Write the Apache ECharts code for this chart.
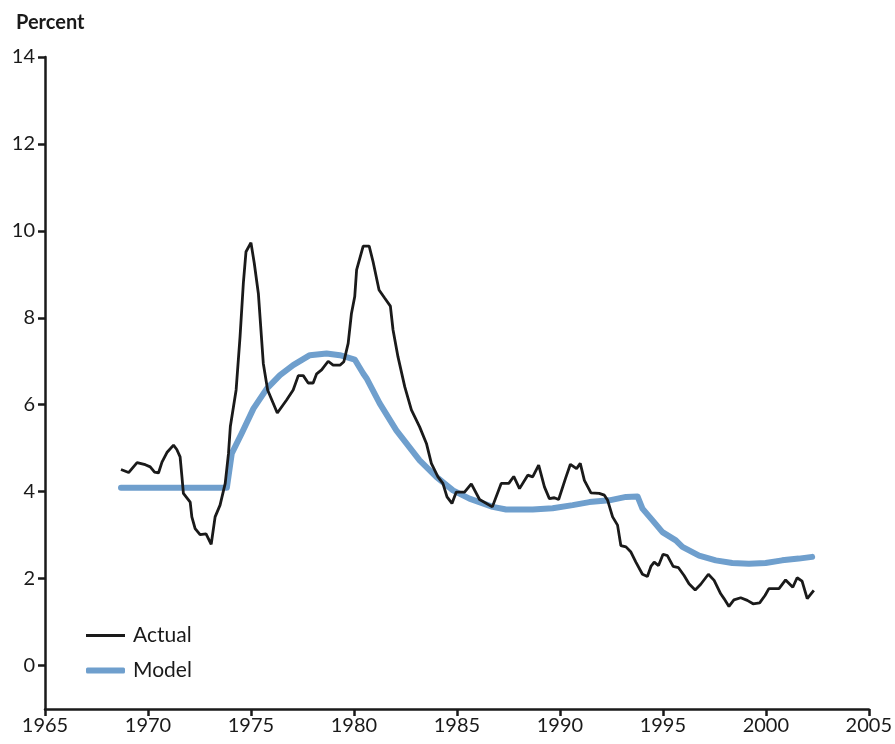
<!DOCTYPE html>
<html>
<head>
<meta charset="utf-8">
<script src="https://cdn.jsdelivr.net/npm/echarts@6/dist/echarts.min.js"></script>
<style>
  html, body { margin: 0; padding: 0; background: #fff; }
  #chart { width: 895px; height: 744px; }
</style>
</head>
<body>
<div id="chart"></div>
<script>
// actual rate
var actualYears = [1968.69, 1969.06, 1969.47, 1969.87, 1970.11, 1970.32, 1970.51, 1970.68, 1970.92, 1971.24,
  1971.40, 1971.56, 1971.65, 1971.72, 1972.05, 1972.13, 1972.29, 1972.53, 1972.82, 1973.07,
  1973.26, 1973.50, 1973.75, 1973.91, 1974.00, 1974.28, 1974.47, 1974.63, 1974.76, 1975.00,
  1975.16, 1975.36, 1975.60, 1975.81, 1976.28, 1976.73, 1977.05, 1977.30, 1977.54, 1977.78,
  1978.02, 1978.19, 1978.43, 1978.75, 1978.99, 1979.32, 1979.51, 1979.72, 1979.88, 1980.04,
  1980.13, 1980.45, 1980.74, 1980.93, 1981.22, 1981.50, 1981.77, 1981.90, 1982.14, 1982.47,
  1982.79, 1983.19, 1983.52, 1983.76, 1984.08, 1984.32, 1984.52, 1984.76, 1984.97, 1985.37,
  1985.70, 1986.10, 1986.72, 1987.15, 1987.52, 1987.76, 1988.04, 1988.44, 1988.68, 1988.97,
  1989.25, 1989.49, 1989.73, 1989.94, 1990.27, 1990.51, 1990.81, 1990.99, 1991.19, 1991.51,
  1991.91, 1992.16, 1992.32, 1992.56, 1992.80, 1992.96, 1993.21, 1993.45, 1993.69, 1994.01,
  1994.25, 1994.42, 1994.58, 1994.79, 1995.01, 1995.22, 1995.50, 1995.76, 1996.03, 1996.27,
  1996.57, 1996.84, 1997.21, 1997.49, 1997.81, 1997.97, 1998.21, 1998.45, 1998.78, 1999.10,
  1999.38, 1999.70, 1999.96, 2000.15, 2000.64, 2000.96, 2001.31, 2001.52, 2001.76, 2002.01,
  2002.33];
var actualValues = [4.51, 4.44, 4.67, 4.62, 4.57, 4.45, 4.43, 4.68, 4.90, 5.07,
  4.97, 4.80, 4.34, 3.96, 3.76, 3.42, 3.15, 3.01, 3.03, 2.79,
  3.42, 3.69, 4.19, 4.88, 5.50, 6.34, 7.56, 8.79, 9.52, 9.73,
  9.26, 8.56, 6.95, 6.34, 5.81, 6.11, 6.34, 6.67, 6.67, 6.50,
  6.50, 6.71, 6.80, 7.00, 6.91, 6.91, 6.99, 7.41, 8.10, 8.49,
  9.10, 9.65, 9.65, 9.29, 8.64, 8.45, 8.27, 7.72, 7.10, 6.41,
  5.88, 5.49, 5.11, 4.65, 4.34, 4.19, 3.88, 3.73, 3.99, 3.99,
  4.18, 3.82, 3.65, 4.19, 4.19, 4.35, 4.07, 4.38, 4.34, 4.61,
  4.11, 3.84, 3.86, 3.82, 4.30, 4.63, 4.53, 4.65, 4.26, 3.97,
  3.96, 3.92, 3.80, 3.42, 3.23, 2.76, 2.73, 2.61, 2.38, 2.10,
  2.05, 2.28, 2.38, 2.30, 2.56, 2.53, 2.28, 2.25, 2.07, 1.88,
  1.74, 1.87, 2.10, 1.96, 1.65, 1.54, 1.36, 1.51, 1.56, 1.50,
  1.42, 1.44, 1.61, 1.77, 1.77, 1.97, 1.80, 2.02, 1.94, 1.54,
  1.73];

// model rate
var modelYears = [1968.69, 1973.83, 1974.07, 1974.55, 1975.12, 1975.77, 1976.41, 1977.05, 1977.86, 1978.67,
  1979.32, 1980.04, 1980.45, 1980.61, 1981.25, 1982.06, 1982.55, 1983.19, 1984.00, 1984.81,
  1985.61, 1986.74, 1987.39, 1988.68, 1989.65, 1990.62, 1991.43, 1992.40, 1993.21, 1993.77,
  1994.01, 1994.50, 1994.98, 1995.63, 1995.95, 1996.76, 1997.57, 1998.37, 1999.18, 1999.99,
  2000.79, 2001.60, 2002.25];
var modelValues = [4.09, 4.09, 4.88, 5.34, 5.91, 6.37, 6.68, 6.91, 7.14, 7.18,
  7.14, 7.04, 6.72, 6.61, 6.03, 5.41, 5.11, 4.72, 4.34, 4.03,
  3.84, 3.65, 3.59, 3.59, 3.62, 3.69, 3.76, 3.80, 3.88, 3.89,
  3.61, 3.34, 3.07, 2.88, 2.73, 2.53, 2.42, 2.36, 2.34, 2.36,
  2.42, 2.46, 2.50];

var yTicks = [0, 2, 4, 6, 8, 10, 12, 14];
var seriesNames = ['Actual', 'Model'];

function pairs(xs, ys) {
  var out = [];
  for (var i = 0; i < xs.length; i++) out.push([xs[i], ys[i]]);
  return out;
}

var chart = echarts.init(document.getElementById('chart'));
var font = 'Lato, "Open Sans", sans-serif';
var ink = '#1a1a1a';
var legendText = { fontFamily: font, fontSize: 21, color: ink, padding: [0, 0, 0, 3] };
var option = {
  backgroundColor: '#fff',
  animation: false,
  title: {
    text: 'Percent',
    left: 11, top: 8,
    textStyle: { fontFamily: font, fontSize: 20, fontWeight: 'bold', color: ink }
  },
  grid: { left: 45, right: 25, top: 57, bottom: 35, containLabel: false },
  legend: [
    {
      left: 81, top: 620, icon: 'rect',
      itemWidth: 39, itemHeight: 3,
      textStyle: legendText, data: [seriesNames[0]]
    },
    {
      left: 81, top: 655, icon: 'roundRect',
      itemWidth: 39, itemHeight: 6,
      textStyle: legendText, data: [seriesNames[1]]
    }
  ],
  xAxis: {
    type: 'value',
    min: 1965, max: 2005, interval: 5,
    splitLine: { show: false },
    axisLine: { onZero: false, lineStyle: { color: ink, width: 2.5 } },
    axisTick: { length: 7, lineStyle: { color: ink, width: 2.5 } },
    axisLabel: { fontFamily: font, fontSize: 20, color: ink, margin: 7,
      formatter: function (v) { return String(v); } }
  },
  yAxis: {
    type: 'value',
    min: -1, max: 14,
    splitLine: { show: false },
    axisLine: { show: true, lineStyle: { color: ink, width: 2.5 } },
    axisTick: { show: true, length: 7, customValues: yTicks, lineStyle: { color: ink, width: 2.5 } },
    axisLabel: { fontFamily: font, fontSize: 20, color: ink, margin: 10, customValues: yTicks }
  },
  series: [
    {
      name: seriesNames[0], type: 'line', symbol: 'none', z: 3,
      data: pairs(actualYears, actualValues),
      lineStyle: { color: ink, width: 2.8 },
      itemStyle: { color: ink }
    },
    {
      name: seriesNames[1], type: 'line', symbol: 'none', z: 2,
      data: pairs(modelYears, modelValues),
      lineStyle: { color: '#6f9fcd', width: 6, cap: 'round', join: 'round' },
      itemStyle: { color: '#6f9fcd' }
    }
  ]
};
chart.setOption(option);
</script>
</body>
</html>
